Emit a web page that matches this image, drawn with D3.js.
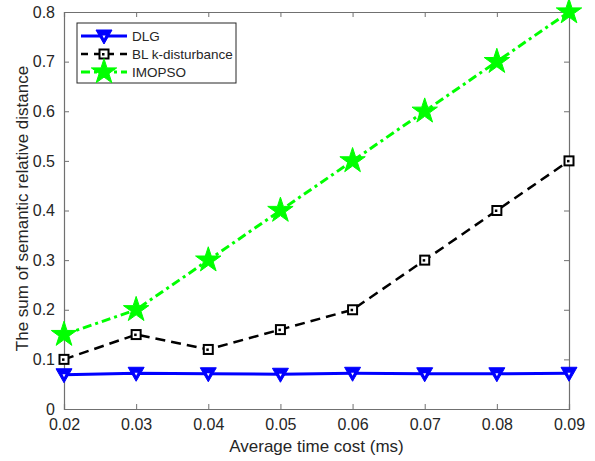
<!DOCTYPE html>
<html>
<head>
<meta charset="utf-8">
<script src="https://cdn.jsdelivr.net/npm/d3@7"></script>
<style>
  body { margin: 0; background: #fff; }
  text { font-family: "Liberation Sans", Arial, sans-serif; fill: #262626; }
</style>
</head>
<body>
<div id="chart"></div>
<script>
const xValues = [0.02, 0.03, 0.04, 0.05, 0.06, 0.07, 0.08, 0.09];
const dlg = [0.069, 0.072, 0.071, 0.07, 0.072, 0.071, 0.071, 0.072];
const blk = [0.10, 0.15, 0.12, 0.16, 0.20, 0.30, 0.40, 0.50];
const imopso = [0.15, 0.20, 0.30, 0.40, 0.50, 0.60, 0.70, 0.80];
const yTicks = [0, 0.1, 0.2, 0.3, 0.4, 0.5, 0.6, 0.7, 0.8];
const seriesNames = ["DLG", "BL k-disturbance", "IMOPSO"];

const W = 595, H = 461;
const margin = { top: 12, right: 26, bottom: 52, left: 64 };
const width = W - margin.left - margin.right;
const height = H - margin.top - margin.bottom;

const svg = d3.select("#chart").append("svg")
  .attr("width", W).attr("height", H);
const g = svg.append("g").attr("transform", `translate(${margin.left},${margin.top})`);

const x = d3.scaleLinear().domain([0.02, 0.09]).range([0, width]);
const y = d3.scaleLinear().domain([0, 0.8]).range([height, 0]);

const axisColor = "#707070";

// axes, ticks pointing inward like matlab
const xAxis = g.append("g").attr("transform", `translate(0,${height})`)
  .call(d3.axisBottom(x).tickValues(xValues).tickSize(-5).tickPadding(10).tickFormat(d3.format(".2f")));
const xTop = g.append("g")
  .call(d3.axisTop(x).tickValues(xValues).tickSize(-5).tickFormat(""));
const yAxis = g.append("g")
  .call(d3.axisLeft(y).tickValues(yTicks).tickSize(-5).tickPadding(9).tickFormat(d => d === 0 ? "0" : d3.format(".1f")(d)));
const yRight = g.append("g").attr("transform", `translate(${width},0)`)
  .call(d3.axisRight(y).tickValues(yTicks).tickSize(-5).tickFormat(""));

[xAxis, xTop, yAxis, yRight].forEach(a => {
  a.select(".domain").attr("stroke", axisColor).attr("stroke-width", 1.2);
  a.selectAll(".tick line").attr("stroke", axisColor);
  a.selectAll(".tick text").style("font-size", "16px").attr("fill", "#262626");
});

// axis labels
g.append("text")
  .attr("x", width / 2).attr("y", height + 43)
  .attr("text-anchor", "middle").style("font-size", "17px")
  .text("Average time cost (ms)");
g.append("text")
  .attr("transform", `translate(-36,${height / 2 - 2}) rotate(-90)`)
  .attr("text-anchor", "middle").style("font-size", "17px")
  .text("The sum of semantic relative distance");

const line = d3.line().x((d, i) => x(xValues[i])).y(d => y(d));

// IMOPSO
g.append("path").datum(imopso).attr("d", line)
  .attr("fill", "none").attr("stroke", "#00ff00").attr("stroke-width", 3)
  .attr("stroke-dasharray", "9,4,3,4");
// BL
g.append("path").datum(blk).attr("d", line)
  .attr("fill", "none").attr("stroke", "#000").attr("stroke-width", 2.5)
  .attr("stroke-dasharray", "10,6");
// DLG
g.append("path").datum(dlg).attr("d", line)
  .attr("fill", "none").attr("stroke", "#0000ff").attr("stroke-width", 3);

const star = d3.symbol().type(d3.symbolStar).size(200);

function drawStar(sel, cx, cy) {
  sel.append("path").attr("d", star())
    .attr("transform", `translate(${cx},${cy})`)
    .attr("fill", "#00ff00").attr("stroke", "#00ff00").attr("stroke-width", 1);
}
function drawSquare(sel, cx, cy) {
  sel.append("rect").attr("x", cx - 4.5).attr("y", cy - 4.5).attr("width", 9).attr("height", 9)
    .attr("fill", "#fff").attr("stroke", "#000").attr("stroke-width", 2);
  sel.append("rect").attr("x", cx - 2).attr("y", cy - 1).attr("width", 2.5).attr("height", 2.5)
    .attr("fill", "#000");
}
function drawTri(sel, cx, cy) {
  sel.append("path").attr("d", "M-8,-6 L8,-6 L0,8 Z")
    .attr("transform", `translate(${cx},${cy})`)
    .attr("fill", "#0000ff").attr("stroke", "#0000ff").attr("stroke-width", 1);
  sel.append("path").attr("d", "M-1.5,-0.5 L1.5,-0.5 L0,2.5 Z")
    .attr("transform", `translate(${cx},${cy})`)
    .attr("fill", "#fff");
}

imopso.forEach((d, i) => drawStar(g, x(xValues[i]), y(d)));
blk.forEach((d, i) => drawSquare(g, x(xValues[i]), y(d)));
dlg.forEach((d, i) => drawTri(g, x(xValues[i]), y(d)));

// legend
const lg = svg.append("g").attr("transform", "translate(77,23)");
lg.append("rect").attr("width", 159).attr("height", 60)
  .attr("fill", "#fff").attr("stroke", "#262626").attr("stroke-width", 1);
const rows = [
  { name: seriesNames[0], color: "#0000ff", dash: null, w: 3, mark: drawTri },
  { name: seriesNames[1], color: "#000", dash: "7,6", w: 2.5, mark: drawSquare },
  { name: seriesNames[2], color: "#00ff00", dash: "9,4,3,4", w: 3, mark: drawStar }
];
rows.forEach((r, i) => {
  const yy = 13 + i * 18;
  lg.append("line").attr("x1", 4).attr("x2", 50).attr("y1", yy).attr("y2", yy)
    .attr("stroke", r.color).attr("stroke-width", r.w)
    .attr("stroke-dasharray", r.dash);
  r.mark(lg, 27, yy);
  lg.append("text").attr("x", 55).attr("y", yy + 5).style("font-size", "13.5px").text(r.name);
});
</script>
</body>
</html>
